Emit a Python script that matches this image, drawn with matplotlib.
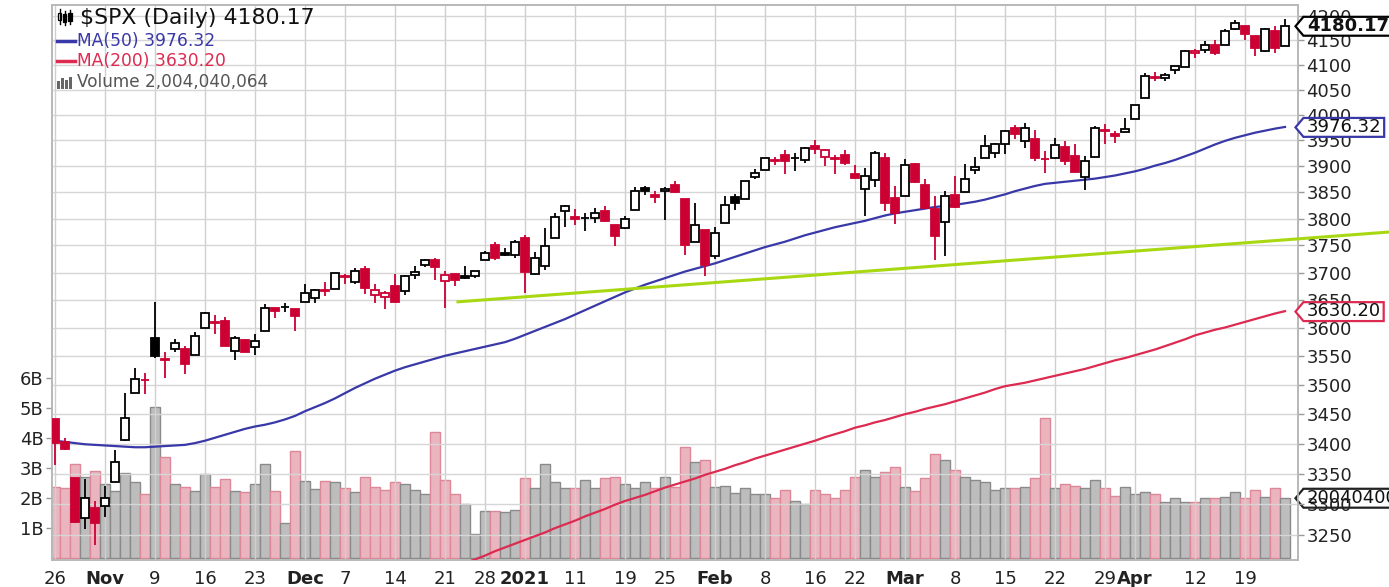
import numpy as np
import pandas as pd
import matplotlib
matplotlib.use('Agg')
import matplotlib.pyplot as plt
from matplotlib.path import Path
from matplotlib.patches import Rectangle
from matplotlib.lines import Line2D
from matplotlib.ticker import FixedLocator, FixedFormatter, NullLocator

# trading days Oct 26 2020 .. Apr 23 2021
holidays = ['2020-11-26', '2020-12-25', '2021-01-01', '2021-01-18', '2021-02-15', '2021-04-02']
dates = pd.bdate_range('2020-10-26', '2021-04-23')
dates = dates[~dates.isin(pd.to_datetime(holidays))]

prev_close = 3465.39  # close of Oct 23 2020

opens = [3441.42, 3403.15, 3342.48, 3277.17, 3293.59, 3296.20, 3336.25, 3406.46, 3485.74, 3508.34,
         3583.04, 3543.26, 3563.22, 3562.67, 3552.57, 3600.16, 3610.31, 3612.09, 3559.41, 3579.31,
         3566.82, 3594.52, 3635.50, 3638.55, 3634.18, 3645.87, 3653.78, 3668.28, 3670.94, 3694.73,
         3683.05, 3705.98, 3659.13, 3656.08, 3675.27, 3666.41, 3696.25, 3713.65, 3722.39, 3684.28,
         3698.08, 3693.42, 3694.03, 3723.03, 3750.01, 3736.19, 3733.27, 3764.61, 3698.02, 3712.20,
         3764.71, 3815.05, 3803.14, 3801.62, 3802.23, 3814.98, 3788.73, 3781.88, 3816.22, 3857.46,
         3844.24, 3851.68, 3862.96, 3836.83, 3755.75, 3778.05, 3731.17, 3791.84, 3840.27, 3836.66,
         3878.30, 3892.59, 3910.49, 3920.78, 3916.40, 3911.65, 3939.61, 3918.50, 3915.86, 3921.16,
         3885.55, 3857.07, 3873.71, 3915.80, 3839.66, 3842.51, 3903.64, 3863.99, 3818.53, 3793.58,
         3844.39, 3851.27, 3891.99, 3915.54, 3924.52, 3942.96, 3973.59, 3949.57, 3953.50, 3913.14,
         3916.48, 3937.60, 3919.93, 3879.34, 3917.12, 3969.31, 3963.34, 3967.25, 3992.78, 4034.44,
         4075.57, 4074.29, 4089.95, 4096.11, 4124.71, 4130.10, 4141.58, 4139.76, 4174.14, 4179.80,
         4159.18, 4128.42, 4170.46, 4138.78]
highs = [3441.42, 3409.51, 3342.48, 3341.05, 3304.93, 3330.14, 3389.49, 3486.25, 3529.05, 3521.58,
         3645.99, 3557.22, 3581.16, 3569.02, 3593.66, 3628.51, 3623.11, 3619.09, 3585.22, 3581.23,
         3589.81, 3642.31, 3635.50, 3644.31, 3634.18, 3678.45, 3670.96, 3682.73, 3699.20, 3697.41,
         3708.45, 3712.39, 3678.49, 3665.91, 3697.61, 3695.29, 3711.27, 3725.12, 3726.70, 3702.90,
         3698.26, 3711.24, 3703.82, 3740.51, 3756.12, 3744.63, 3760.20, 3769.99, 3737.83, 3783.04,
         3811.55, 3826.69, 3817.86, 3810.78, 3820.96, 3823.60, 3788.73, 3804.53, 3859.75, 3861.45,
         3852.31, 3859.23, 3870.90, 3836.83, 3830.50, 3778.05, 3784.32, 3843.09, 3847.51, 3872.42,
         3894.56, 3915.77, 3918.35, 3931.50, 3925.99, 3937.23, 3950.43, 3933.61, 3921.09, 3930.41,
         3902.92, 3895.98, 3928.65, 3925.02, 3861.08, 3914.50, 3906.41, 3874.47, 3843.67, 3851.69,
         3881.06, 3903.76, 3917.35, 3960.27, 3944.99, 3970.08, 3981.04, 3983.87, 3969.62, 3930.12,
         3955.31, 3949.13, 3942.08, 3919.54, 3978.19, 3981.83, 3968.01, 3994.41, 4020.63, 4083.42,
         4086.23, 4083.13, 4098.19, 4129.48, 4131.76, 4148.00, 4151.69, 4173.49, 4191.31, 4180.81,
         4159.18, 4175.02, 4179.57, 4194.17]
lows = [3364.86, 3388.71, 3268.89, 3259.82, 3233.94, 3279.74, 3336.25, 3405.17, 3485.74, 3484.34,
        3547.48, 3511.91, 3557.00, 3518.58, 3552.57, 3600.16, 3588.68, 3567.33, 3543.84, 3556.85,
        3552.77, 3594.52, 3617.76, 3629.33, 3594.39, 3645.87, 3644.84, 3657.17, 3670.94, 3678.88,
        3678.83, 3660.54, 3645.18, 3633.40, 3645.84, 3659.62, 3688.57, 3710.87, 3685.84, 3636.48,
        3676.16, 3689.28, 3689.32, 3723.03, 3723.31, 3730.21, 3726.88, 3662.71, 3695.07, 3705.34,
        3764.71, 3783.60, 3789.02, 3776.51, 3791.50, 3792.86, 3749.62, 3780.37, 3816.22, 3845.05,
        3830.41, 3797.16, 3847.78, 3732.48, 3755.75, 3694.12, 3725.62, 3791.84, 3816.68, 3836.66,
        3874.93, 3892.59, 3902.64, 3884.94, 3890.39, 3905.78, 3923.85, 3900.43, 3885.14, 3903.07,
        3874.71, 3805.59, 3859.60, 3814.04, 3789.54, 3842.51, 3868.57, 3818.86, 3723.34, 3730.19,
        3819.25, 3851.27, 3885.73, 3915.54, 3915.21, 3923.54, 3953.44, 3935.74, 3910.86, 3886.75,
        3914.16, 3901.57, 3889.07, 3853.50, 3917.12, 3943.25, 3944.35, 3966.98, 3992.78, 4034.44,
        4068.14, 4068.31, 4082.54, 4095.51, 4114.82, 4124.43, 4120.87, 4139.76, 4170.75, 4150.47,
        4118.38, 4126.35, 4123.69, 4138.78]
closes = [3400.97, 3390.68, 3271.03, 3310.11, 3269.96, 3310.24, 3369.16, 3443.44, 3510.45, 3509.44,
          3550.50, 3545.53, 3572.66, 3537.01, 3585.15, 3626.91, 3609.53, 3567.79, 3581.87, 3557.54,
          3577.59, 3635.41, 3629.65, 3638.35, 3621.63, 3662.45, 3669.01, 3666.72, 3699.12, 3691.96,
          3702.25, 3672.82, 3668.10, 3663.46, 3647.49, 3694.62, 3701.17, 3722.48, 3709.41, 3694.92,
          3687.26, 3690.01, 3703.06, 3735.36, 3727.04, 3732.04, 3756.07, 3700.65, 3726.86, 3748.14,
          3803.79, 3824.68, 3799.61, 3801.19, 3809.84, 3795.54, 3768.25, 3798.91, 3851.85, 3853.07,
          3841.47, 3855.36, 3849.62, 3750.77, 3787.38, 3714.24, 3773.86, 3826.31, 3830.17, 3871.74,
          3886.83, 3915.59, 3911.23, 3909.88, 3916.38, 3934.83, 3932.59, 3931.33, 3913.97, 3906.71,
          3876.50, 3881.37, 3925.43, 3829.34, 3811.15, 3901.82, 3870.29, 3819.72, 3768.47, 3841.94,
          3821.35, 3875.44, 3898.81, 3939.34, 3943.34, 3968.94, 3962.71, 3974.12, 3915.46, 3913.10,
          3940.59, 3910.52, 3889.14, 3909.52, 3974.54, 3971.09, 3958.55, 3972.89, 4019.87, 4077.91,
          4073.94, 4079.95, 4097.17, 4128.80, 4127.99, 4141.59, 4124.66, 4170.42, 4185.47, 4163.26,
          4134.94, 4173.42, 4134.98, 4180.17]

# volume, billions of shares
volume = [2.38, 2.32, 3.12, 2.71, 2.91, 2.47, 2.24, 2.84, 2.52, 2.12,
          5.04, 3.38, 2.47, 2.38, 2.24, 2.79, 2.38, 2.64, 2.24, 2.19,
          2.46, 3.12, 2.24, 1.18, 3.58, 2.58, 2.31, 2.58, 2.53, 2.32,
          2.19, 2.71, 2.38, 2.27, 2.52, 2.46, 2.27, 2.12, 4.19, 2.60,
          2.12, 1.79, 0.79, 1.58, 1.58, 1.52, 1.60, 2.66, 2.32, 3.12,
          2.52, 2.32, 2.32, 2.60, 2.32, 2.66, 2.71, 2.46, 2.32, 2.52,
          2.32, 2.71, 2.35, 3.71, 3.19, 3.27, 2.38, 2.40, 2.18, 2.32,
          2.12, 2.12, 1.99, 2.27, 1.91, 1.79, 2.27, 2.12, 1.99, 2.27,
          2.71, 2.93, 2.71, 2.86, 3.04, 2.38, 2.24, 2.66, 3.46, 3.27,
          2.93, 2.71, 2.60, 2.52, 2.27, 2.32, 2.32, 2.38, 2.66, 4.66,
          2.32, 2.46, 2.40, 2.32, 2.60, 2.32, 2.06, 2.38, 2.12, 2.19,
          2.12, 1.86, 1.99, 1.86, 1.86, 1.99, 1.99, 2.04, 2.19, 1.99,
          2.27, 2.04, 2.32, 2.004040064]

ma50 = [3405, 3403, 3401, 3399, 3398, 3397, 3396, 3395, 3394, 3394,
        3395, 3396, 3397, 3398, 3401, 3405, 3410, 3415, 3420, 3425,
        3429, 3432, 3436, 3441, 3447, 3455, 3462, 3469, 3477, 3486,
        3495, 3503, 3511, 3518, 3525, 3531, 3536, 3541, 3546, 3551,
        3555, 3559, 3563, 3567, 3571, 3575, 3581, 3588, 3595, 3602,
        3609, 3616, 3624, 3632, 3640, 3648, 3656, 3664, 3671, 3678,
        3684, 3690, 3696, 3702, 3707, 3712, 3717, 3723, 3729, 3735,
        3741, 3747, 3752, 3757, 3763, 3769, 3774, 3779, 3784, 3788,
        3792, 3796, 3801, 3806, 3810, 3813, 3816, 3819, 3822, 3824,
        3826, 3829, 3832, 3836, 3841, 3846, 3852, 3857, 3862, 3866,
        3868, 3870, 3872, 3874, 3876, 3879, 3882, 3886, 3890, 3895,
        3901, 3906, 3912, 3919, 3926, 3934, 3942, 3949, 3955, 3960,
        3965, 3969, 3973, 3976.32]

# MA(200) is below the chart floor until late December
ma200_visible = [3205, 3211, 3217, 3224, 3230, 3236, 3242, 3248, 3254, 3261,
                 3267, 3273, 3280, 3286, 3292, 3299, 3305, 3310, 3315, 3321,
                 3327, 3332, 3337, 3342, 3348, 3353, 3358, 3364, 3369, 3375,
                 3380, 3385, 3390, 3395, 3400, 3405, 3411, 3416, 3421, 3427,
                 3431, 3436, 3440, 3445, 3450, 3454, 3459, 3463, 3467, 3472,
                 3477, 3482, 3487, 3493, 3498, 3501, 3504, 3508, 3512, 3516,
                 3520, 3524, 3528, 3533, 3538, 3543, 3547, 3552, 3557, 3562,
                 3568, 3574, 3580, 3587, 3592, 3597, 3601, 3606, 3611, 3616,
                 3621, 3626, 3630.20]
ma200 = [np.nan] * (len(dates) - len(ma200_visible)) + ma200_visible

# hand drawn trend line (day index, price)
trend_x = [40.3, 133.4]
trend_y = [3647, 3775]

tick_dates = ['2020-10-26', '2020-11-02', '2020-11-09', '2020-11-16', '2020-11-23', '2020-12-01',
              '2020-12-07', '2020-12-14', '2020-12-21', '2020-12-28', '2021-01-04', '2021-01-11',
              '2021-01-19', '2021-01-25', '2021-02-01', '2021-02-08', '2021-02-16', '2021-02-22',
              '2021-03-01', '2021-03-08', '2021-03-15', '2021-03-22', '2021-03-29', '2021-04-01',
              '2021-04-12', '2021-04-19']
tick_labels = ['26', 'Nov', '9', '16', '23', 'Dec', '7', '14', '21', '28', '2021', '11', '19', '25',
               'Feb', '8', '16', '22', 'Mar', '8', '15', '22', '29', 'Apr', '12', '19']
bold_labels = ['Nov', 'Dec', '2021', 'Feb', 'Mar', 'Apr']

price_ticks = list(range(3250, 4201, 50))
vol_ticks = [1, 2, 3, 4, 5, 6]

RED = '#cc0033'
BLUE = '#3838a8'
MA200_RED = '#dd2a50'
GREEN = '#a8d812'
W, H = 1389, 587


def tag_shape(x0, y0, width, height, mutation_size):
    # price tag: box with a point on the left
    pad = 0.2 * mutation_size
    x0, y0 = x0 - pad, y0 - 0.05 * mutation_size
    x1, y1 = x0 + width + 1.7 * pad, y0 + height + 0.05 * mutation_size
    tip = 0.42 * (y1 - y0)
    ym = (y0 + y1) / 2
    return Path([(x0, y0), (x1, y0), (x1, y1), (x0, y1), (x0 - tip, ym), (x0, y0)], closed=True)


def px(x, y):
    return x / W, 1 - y / H


x = np.arange(len(dates))
o = np.array(opens)
h = np.array(highs)
l = np.array(lows)
c = np.array(closes)
pc = np.concatenate([[prev_close], c[:-1]])
up = c >= pc

fig = plt.figure(figsize=(W / 100, H / 100), dpi=100)
ax_v = fig.add_axes([52 / W, 27 / H, 1246 / W, 555 / H])
ax_p = ax_v.twinx()

# volume
vol = np.array(volume)
ax_v.bar(x, vol * 1e9, width=1.0,
         color=np.where(up, '#bdbdbd', '#ebb5bf'),
         edgecolor=np.where(up, '#8a8a8a', '#dc8898'), linewidth=1.0, zorder=1)
ax_v.set_xlim(-0.3, 124.3)
ax_v.set_ylim(-0.07e9, 18.43e9)
ax_v.yaxis.set_major_locator(FixedLocator([v * 1e9 for v in vol_ticks]))
ax_v.yaxis.set_major_formatter(FixedFormatter([f'{v}B' for v in vol_ticks]))
pos = dates.get_indexer(pd.to_datetime(tick_dates))
ax_v.set_xticks(pos)
ax_v.set_xticklabels(tick_labels)
for t in ax_v.get_xticklabels():
    if t.get_text() in bold_labels:
        t.set_fontweight('bold')
ax_v.tick_params(axis='x', length=0, pad=7, labelsize=13, labelcolor='#222222')
ax_v.tick_params(axis='y', length=4, width=1, color='#999999', pad=2, labelsize=13, labelcolor='#222222')
ax_v.set_axisbelow(False)
ax_v.grid(axis='x', color='#cfcfcf', linewidth=1.0, zorder=2)

# price
ax_p.set_yscale('log')
ax_p.set_ylim(3210, 4223.4)
ax_p.yaxis.set_major_locator(FixedLocator(price_ticks))
ax_p.yaxis.set_major_formatter(FixedFormatter([str(v) for v in price_ticks]))
ax_p.yaxis.set_minor_locator(NullLocator())
ax_p.tick_params(axis='y', length=4, width=1, color='#999999', pad=2, labelsize=13, labelcolor='#222222')
ax_p.set_axisbelow(True)
ax_p.grid(axis='y', color='#d6d6d6', linewidth=1.0)

for ax in (ax_v, ax_p):
    for s in ax.spines.values():
        s.set_color('#b8b8b8')
        s.set_linewidth(1.2)

ax_p.plot(x, ma50, color=BLUE, linewidth=1.6, zorder=3)
ax_p.plot(x, ma200, color=MA200_RED, linewidth=1.6, zorder=3)
ax_p.plot(trend_x, trend_y, color=GREEN, linewidth=2.2, zorder=3, clip_on=False)

for i in range(len(x)):
    col = 'black' if up[i] else RED
    ax_p.vlines(x[i], l[i], h[i], color=col, linewidth=1.3, zorder=4)
    lo, hi = min(o[i], c[i]), max(o[i], c[i])
    face = 'white' if c[i] > o[i] else col
    ax_p.add_patch(Rectangle((x[i] - 0.36, lo), 0.72, hi - lo, facecolor=face,
                             edgecolor=col, linewidth=1.3, zorder=5))

# right side value tags
tags = [(ax_p, closes[-1], f'{closes[-1]:.2f}', 'black', 'bold'),
        (ax_p, ma50[-1], f'{ma50[-1]:.2f}', BLUE, 'normal'),
        (ax_p, ma200[-1], f'{ma200[-1]:.2f}', MA200_RED, 'normal'),
        (ax_v, vol[-1] * 1e9, f'{int(round(vol[-1] * 1e9))}', '#222222', 'normal')]
for ax, val, txt, ec, fw in tags:
    ax.annotate(txt, xy=(1.0, val), xycoords=('axes fraction', 'data'),
                xytext=(6.5, 0), textcoords='offset points', ha='left', va='center',
                fontsize=13, fontweight=fw, color='#111111', annotation_clip=False, zorder=10,
                bbox=dict(boxstyle=tag_shape, facecolor='white', edgecolor=ec, linewidth=1.6))

# legend block top left
fig.text(*px(80, 18), f'$SPX (Daily) {closes[-1]:.2f}', fontsize=15.8, va='center', ha='left', color='#111111')
fig.text(*px(77, 41), f'MA(50) {ma50[-1]:.2f}', fontsize=12.3, va='center', ha='left', color=BLUE)
fig.text(*px(77, 61), f'MA(200) {ma200[-1]:.2f}', fontsize=12.3, va='center', ha='left', color=MA200_RED)
fig.text(*px(77, 82), f'Volume {int(round(vol[-1] * 1e9)):,}', fontsize=12.2, va='center', ha='left', color='#555555')

fig.add_artist(Line2D([57 / W, 75 / W], [1 - 41 / H, 1 - 41 / H], color=BLUE, linewidth=2.5))
fig.add_artist(Line2D([57 / W, 75 / W], [1 - 61 / H, 1 - 61 / H], color=MA200_RED, linewidth=2.5))
# candle icon
for cx, y0, y1, b0, b1, fill in [(59.5, 9, 24, 13, 20, 'white'), (64.5, 11, 25, 14, 22, 'black'),
                                  (70, 10, 24, 13, 21, 'black')]:
    fig.add_artist(Line2D([cx / W, cx / W], [1 - y1 / H, 1 - y0 / H], color='black', linewidth=1.0))
    fig.add_artist(Rectangle((cx / W - 1.8 / W, 1 - b1 / H), 3.6 / W, (b1 - b0) / H,
                             facecolor=fill, edgecolor='black', linewidth=0.9, transform=fig.transFigure))
# volume icon
for bx, bh in [(57, 8), (61, 11), (65, 9), (69, 12)]:
    fig.add_artist(Rectangle((bx / W, 1 - 89 / H), 3 / W, bh / H, facecolor='#666666',
                             edgecolor='none', transform=fig.transFigure))

fig.savefig('out.png', dpi=100)
